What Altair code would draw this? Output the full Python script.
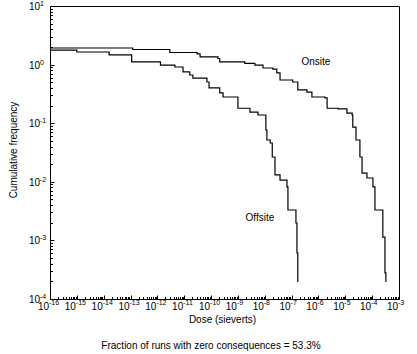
import altair as alt
import pandas as pd

# Complementary cumulative frequency
onsite_dose = [1e-16, 1.2e-13, 2.9e-12, 3.0e-11, 3.9e-11, 1.8e-10, 2.1e-10, 1.8e-9, 4.3e-9,
               8.6e-9, 2.0e-8, 2.8e-8, 3.7e-8, 1.1e-7, 1.7e-7, 3.7e-7, 5.7e-7, 1.75e-6, 2.1e-6,
               5.3e-6, 1.15e-5, 1.8e-5, 1.9e-5, 2.5e-5, 3.5e-5, 4.2e-5, 6.4e-5, 1.07e-4, 1.27e-4,
               2.5e-4, 3.0e-4, 3.25e-4]
onsite_freq = [1.92, 1.81, 1.61, 1.52, 1.35, 1.27, 1.11, 1.05, 0.98,
               0.875, 0.84, 0.72, 0.546, 0.505, 0.37, 0.34, 0.28, 0.27, 0.18,
               0.175, 0.149, 0.138, 0.086, 0.0517, 0.0265, 0.0141, 0.0116, 0.0082, 0.0033,
               0.00114, 0.00028, 0.000195]

offsite_dose = [1e-16, 1.0e-15, 1.6e-14, 1.1e-13, 1.3e-12, 4.5e-12, 9e-12, 1.6e-11, 2.1e-11,
                7.0e-11, 8.4e-11, 2.1e-10, 2.8e-10, 1.0e-9, 2.8e-9, 5.6e-9, 1.1e-8, 1.2e-8,
                1.6e-8, 1.9e-8, 2.4e-8, 3.7e-8, 6.7e-8, 7.3e-8, 1.45e-7, 1.58e-7, 1.7e-7]
offsite_freq = [1.77, 1.64, 1.46, 1.11, 0.98, 0.91, 0.75, 0.665, 0.59,
                0.505, 0.40, 0.33, 0.28, 0.18, 0.155, 0.138, 0.0766, 0.0517,
                0.0459, 0.0265, 0.0131, 0.0107, 0.0082, 0.0033, 0.00198, 0.00061, 0.000195]

label_names = ["Onsite", "Offsite"]
label_dose = [8e-7, 6.6e-9]
label_freq = [1.11, 0.0024]

# Tick labels: base "10" with a raised exponent
x_tick_values = [1e-16, 1e-15, 1e-14, 1e-13, 1e-12, 1e-11, 1e-10, 1e-9, 1e-8, 1e-7,
                 1e-6, 1e-5, 1e-4, 1e-3]
x_tick_exponents = ["-16", "-15", "-14", "-13", "-12", "-11", "-10", "-9", "-8", "-7",
                    "-6", "-5", "-4", "-3"]
y_tick_values = [1e-4, 1e-3, 1e-2, 1e-1, 1e0, 1e1]
y_tick_exponents = ["-4", "-3", "-2", "-1", "0", "1"]

x_title = "Dose (sieverts)"
y_title = "Cumulative frequency"
caption = "Fraction of runs with zero consequences = 53.3%"

x_minor = [m * 10.0 ** k for k in range(-16, -3) for m in range(2, 10)]
y_minor = [m * 10.0 ** k for k in range(-4, 1) for m in range(2, 10)]

df = pd.DataFrame({
    "dose": onsite_dose + offsite_dose,
    "freq": onsite_freq + offsite_freq,
    "site": ["Onsite"] * len(onsite_dose) + ["Offsite"] * len(offsite_dose),
})
lab = pd.DataFrame({"name": label_names, "dose": label_dose, "freq": label_freq})
xt = pd.DataFrame({"v": x_tick_values, "e": x_tick_exponents, "b": ["10"] * len(x_tick_values)})
yt = pd.DataFrame({"v": y_tick_values, "e": y_tick_exponents, "b": ["10"] * len(y_tick_values)})

FONT = "Liberation Sans"
W, H = 349, 293
xscale = alt.Scale(type="log", domain=[1e-16, 1e-3], nice=False)
yscale = alt.Scale(type="log", domain=[1e-4, 10], nice=False)

common = dict(grid=False, domain=False, labels=False, title=None, ticks=True, tickColor="black")

x_major_ticks = alt.Axis(values=x_tick_values, tickSize=4, offset=-4, orient="bottom", **common)
y_major_ticks = alt.Axis(values=y_tick_values, tickSize=4, offset=-4, orient="left", **common)
x_minor_ticks = alt.Axis(values=x_minor, tickSize=2.5, offset=-2.5, orient="bottom", **common)
y_minor_ticks = alt.Axis(values=y_minor, tickSize=2.5, offset=-2.5, orient="left", **common)


def line_layer(xaxis, yaxis, opacity):
    return alt.Chart(df).mark_line(
        interpolate="step-after", strokeWidth=1.2, color="black", opacity=opacity
    ).encode(
        x=alt.X("dose:Q", scale=xscale, axis=xaxis),
        y=alt.Y("freq:Q", scale=yscale, axis=yaxis),
        detail="site:N",
    )


lines = line_layer(x_major_ticks, y_major_ticks, 1)
ticks_minor = line_layer(x_minor_ticks, y_minor_ticks, 0)

labels = alt.Chart(lab).mark_text(font=FONT, fontSize=10, color="black").encode(
    x=alt.X("dose:Q", scale=xscale, axis=None),
    y=alt.Y("freq:Q", scale=yscale, axis=None),
    text="name:N",
)

# x tick labels
xb = alt.Chart(xt).mark_text(font=FONT, fontSize=10, color="black", align="right",
                             baseline="alphabetic", dx=-1).encode(
    x=alt.X("v:Q", scale=xscale, axis=None), y=alt.value(H + 11), text="b:N")
xe = alt.Chart(xt).mark_text(font=FONT, fontSize=7, color="black", align="left",
                             baseline="alphabetic", dx=-1).encode(
    x=alt.X("v:Q", scale=xscale, axis=None), y=alt.value(H + 6), text="e:N")

# y tick labels
yb = alt.Chart(yt).mark_text(font=FONT, fontSize=10, color="black", align="right",
                             baseline="middle", dy=1).encode(
    y=alt.Y("v:Q", scale=yscale, axis=None), x=alt.value(-10), text="b:N")
ye = alt.Chart(yt).mark_text(font=FONT, fontSize=7, color="black", align="left",
                             baseline="middle", dy=-2).encode(
    y=alt.Y("v:Q", scale=yscale, axis=None), x=alt.value(-10), text="e:N")

xtitle = alt.Chart(pd.DataFrame({"t": [x_title]})).mark_text(
    font=FONT, fontSize=10, color="black", baseline="middle").encode(
    x=alt.value(W / 2 - 2), y=alt.value(314), text="t:N")
ytitle = alt.Chart(pd.DataFrame({"t": [y_title]})).mark_text(
    font=FONT, fontSize=10, color="black", baseline="middle", angle=270).encode(
    x=alt.value(-36), y=alt.value(144), text="t:N")
caption_text = alt.Chart(pd.DataFrame({"t": [caption]})).mark_text(
    font=FONT, fontSize=10, color="black", baseline="middle").encode(
    x=alt.value(161), y=alt.value(340), text="t:N")

chart = alt.layer(lines, ticks_minor, labels, xb, xe, yb, ye, xtitle, ytitle, caption_text).resolve_axis(
    x="independent", y="independent"
).properties(
    width=W, height=H,
    autosize=alt.AutoSizeParams(type="none"),
    padding={"left": 50, "top": 6, "right": 18, "bottom": 55},
    background="white",
).configure_view(stroke="black", strokeWidth=1)

chart.save("out.html", embed_options={"renderer": "svg", "actions": False})
